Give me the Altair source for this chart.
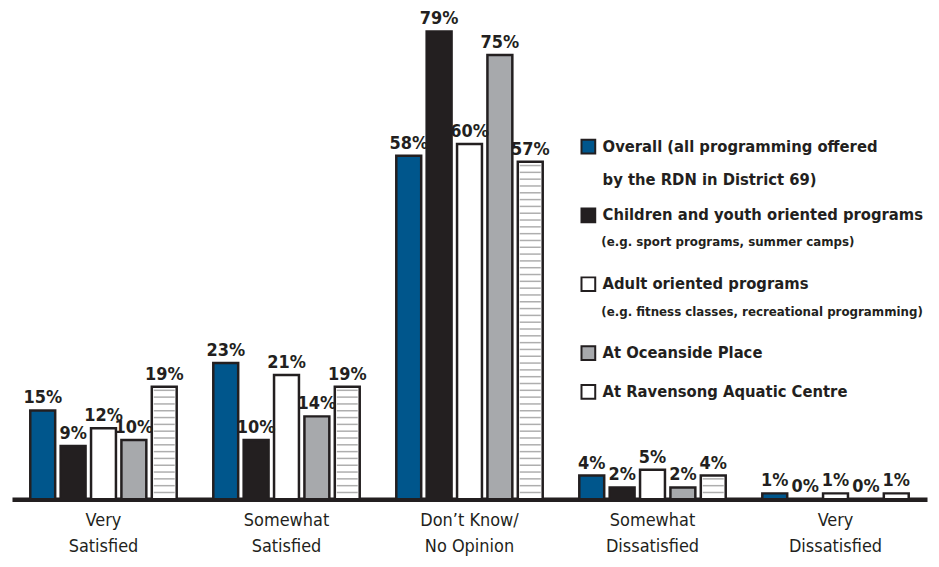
import altair as alt
import pandas as pd

# ---- data ----
categories = ["Very|Satisfied", "Somewhat|Satisfied", "Don\u2019t Know/|No Opinion",
              "Somewhat|Dissatisfied", "Very|Dissatisfied"]
series = ["Overall (all programming offered|by the RDN in District 69)",
          "Children and youth oriented programs| ",
          "Adult oriented programs| ",
          "At Oceanside Place",
          "At Ravensong Aquatic Centre"]
sub_labels = ["(e.g. sport programs, summer camps)",
              "(e.g. fitness classes, recreational programming)"]
overall = [15, 23, 58, 4, 1]
children = [9, 10, 79, 2, 0]
adult = [12, 21, 60, 5, 1]
oceanside = [10, 14, 75, 2, 0]
ravensong = [19, 19, 57, 4, 1]
colors = ["#00568c", "#231f20", "#ffffff", "#a7a9ac", "#ffffff"]

DARK = "#231f20"
FONT = "Liberation Sans Narrow, DejaVu Sans Condensed, Roboto Condensed, Roboto, sans-serif"
STRIPE_STEP = 1.15

rows = []
for s, vals in zip(series, [overall, children, adult, oceanside, ravensong]):
    for c, v in zip(categories, vals):
        rows.append({"cat": c, "series": s, "value": v, "label": f"{v}%"})
df = pd.DataFrame(rows)

stripes = []
for c, v in zip(categories, ravensong):
    k = 1
    while k * STRIPE_STEP < v - 0.4:
        stripes.append({"cat": c, "series": series[4], "stripe": k * STRIPE_STEP})
        k += 1
stripe_df = pd.DataFrame(stripes)

x_enc = alt.X("cat:N", sort=categories,
              scale=alt.Scale(domain=categories, paddingInner=0.17, paddingOuter=0.085),
              axis=alt.Axis(title=None, labelExpr="split(datum.label, '|')",
                            labelFont=FONT, labelFontSize=18, labelColor=DARK,
                            labelLineHeight=26, labelPadding=12, labelAngle=0,
                            ticks=False, domainWidth=4.5, domainColor=DARK,
                            labelLimit=300))
xo_enc = alt.XOffset("series:N", sort=series,
                     scale=alt.Scale(domain=series, paddingInner=0.18, paddingOuter=0.09))
y_scale = alt.Scale(domain=[0, 82.8], nice=False, zero=True)

bars = alt.Chart(df).mark_bar(stroke=DARK, strokeWidth=2.5, strokeJoin="miter").encode(
    x=x_enc,
    xOffset=xo_enc,
    y=alt.Y("value:Q", scale=y_scale, axis=None),
    fill=alt.Fill("series:N", scale=alt.Scale(domain=series, range=colors),
                  legend=alt.Legend(orient="none", legendX=570, legendY=130, title=None,
                                    padding=0, labelFont=FONT, labelFontSize=16.5,
                                    labelFontWeight="bold", labelColor=DARK,
                                    labelExpr="split(datum.label, '|')",
                                    labelLimit=400, labelOffset=6,
                                    symbolType="square", symbolSize=190,
                                    symbolStrokeColor=DARK, symbolStrokeWidth=2,
                                    symbolOpacity=1, rowPadding=16)),
)

hatch = alt.Chart(stripe_df).mark_tick(color="#8c8c8c", thickness=1.5, size=21).encode(
    x=alt.X("cat:N", sort=categories),
    xOffset=alt.XOffset("series:N", sort=series),
    y=alt.Y("stripe:Q", scale=y_scale, axis=None),
)

labels = alt.Chart(df).mark_text(font=FONT, fontSize=18, fontWeight="bold", color=DARK,
                                 baseline="bottom", dy=-3).encode(
    x=alt.X("cat:N", sort=categories),
    xOffset=alt.XOffset("series:N", sort=series),
    y=alt.Y("value:Q", scale=y_scale, axis=None),
    text="label:N",
)

sub_legend = alt.Chart(pd.DataFrame({"sub": sub_labels})).mark_point(opacity=0).encode(
    shape=alt.Shape("sub:N", scale=alt.Scale(domain=sub_labels),
                    legend=alt.Legend(orient="none", legendX=578, legendY=227.5, title=None,
                                      padding=0, labelFont=FONT, labelFontSize=13.2,
                                      labelFontWeight="bold", labelColor=DARK,
                                      labelLimit=400, labelOffset=0, symbolSize=0,
                                      symbolOpacity=0, symbolStrokeWidth=0,
                                      rowPadding=56)),
)

chart = alt.layer(bars, hatch, labels, sub_legend).properties(
    width=918, height=492,
    padding={"left": 4, "top": 0, "right": 4, "bottom": 0},
).configure(
    style={"guide-label": {"lineHeight": 33}},
    view=alt.ViewConfig(stroke=None),
)

chart.save("out.html", embed_options={"renderer": "svg", "actions": False})
